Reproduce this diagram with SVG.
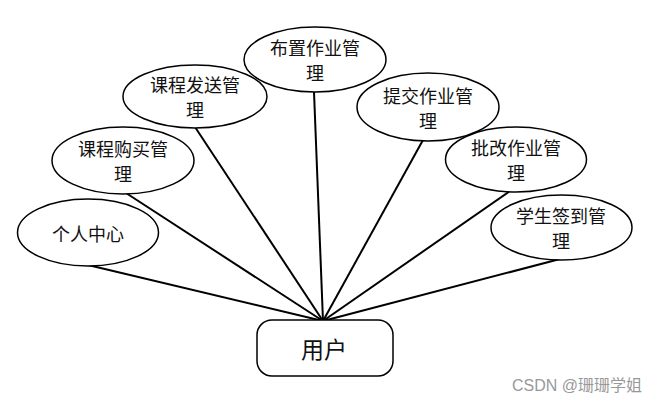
<svg xmlns="http://www.w3.org/2000/svg" width="660" height="403" viewBox="0 0 660 403">
<style>
.n ellipse{fill:#fff;stroke:#000;stroke-width:1.5}
.n text{font-family:"Noto Sans CJK SC","Liberation Serif",serif;font-size:18px;fill:#111;text-anchor:middle;dominant-baseline:central}
.c line{stroke:#000;stroke-width:2}
</style>
<rect width="660" height="403" fill="#fff"/>
<g class="c" id="connectors">
<line x1="88" y1="265" x2="323" y2="321"/>
<line x1="126" y1="193" x2="323" y2="321"/>
<line x1="195" y1="127" x2="323" y2="321"/>
<line x1="314" y1="92" x2="323" y2="321"/>
<line x1="423" y1="140" x2="323" y2="321"/>
<line x1="510" y1="191" x2="323" y2="321"/>
<line x1="560" y1="259" x2="323" y2="321"/>
</g>
<g class="n" id="n-grzx"><ellipse cx="88" cy="232.5" rx="70.5" ry="33.5"/><text x="88" y="233">个人中心</text></g>
<g class="n" id="n-kcgm"><ellipse cx="123" cy="160.5" rx="71" ry="33.5"/><text x="123" y="148">课程购买管</text><text x="123" y="173">理</text></g>
<g class="n" id="n-kcfs"><ellipse cx="195" cy="96.5" rx="72" ry="31.5"/><text x="195" y="84">课程发送管</text><text x="195" y="109">理</text></g>
<g class="n" id="n-bzzy"><ellipse cx="315" cy="59.5" rx="71" ry="32.5"/><text x="315" y="47">布置作业管</text><text x="315" y="72">理</text></g>
<g class="n" id="n-tjzy"><ellipse cx="428" cy="107" rx="71" ry="34"/><text x="428" y="95">提交作业管</text><text x="428" y="120">理</text></g>
<g class="n" id="n-pgzy"><ellipse cx="516" cy="159.5" rx="70.5" ry="32.5"/><text x="516" y="147">批改作业管</text><text x="516" y="172">理</text></g>
<g class="n" id="n-xsqd"><ellipse cx="561.5" cy="227.5" rx="70.5" ry="32.5"/><text x="561" y="215">学生签到管</text><text x="561" y="240">理</text></g>
<g id="n-user"><rect x="257" y="320" width="136" height="56" rx="15" ry="15" fill="#fff" stroke="#000" stroke-width="1.5"/><text x="324" y="348" font-family="Noto Sans CJK SC, Liberation Serif, serif" font-size="23" fill="#111" text-anchor="middle" dominant-baseline="central">用户</text></g>
<text x="642" y="385" font-family="Liberation Sans, Noto Sans CJK SC, sans-serif" font-size="16" fill="#999" text-anchor="end" dominant-baseline="central">CSDN @珊珊学姐</text>
</svg>
